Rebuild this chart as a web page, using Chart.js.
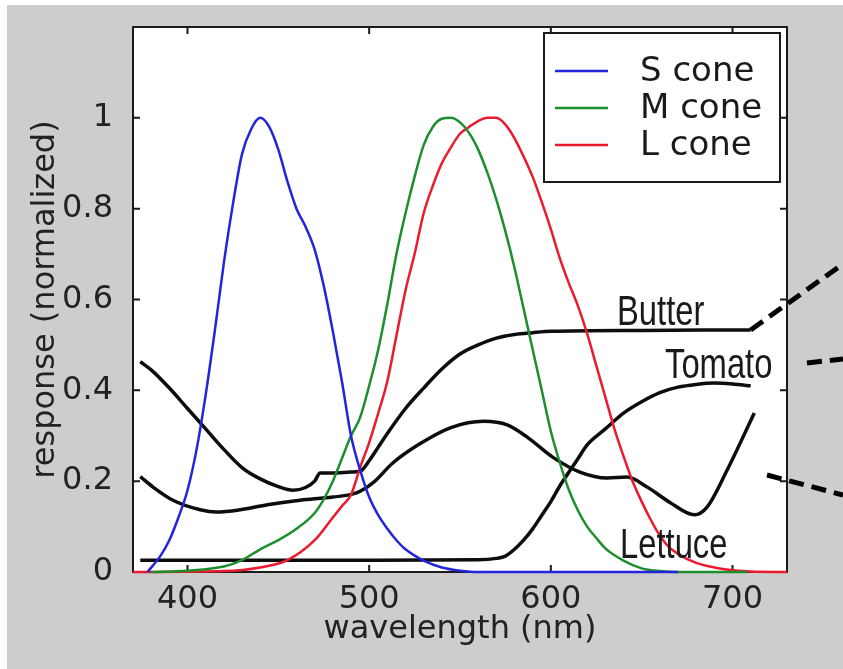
<!DOCTYPE html>
<html>
<head>
<meta charset="utf-8">
<script src="https://cdn.jsdelivr.net/npm/chart.js@4"></script>
<style>
  html, body { margin: 0; padding: 0; background: #ffffff; }
  #wrap { width: 843px; height: 669px; }
</style>
</head>
<body>
<div id="wrap"><canvas id="grafica" width="843" height="669"></canvas></div>
<script>
// tick labels
const xTicks = [400, 500, 600, 700];
const yTicks = [0, 0.2, 0.4, 0.6, 0.8, 1];

// cone responses
const sWave = [378, 385, 390, 395, 400, 405, 410, 415, 420, 425, 430, 435, 440, 445, 450, 455, 460, 465, 470, 475, 480, 485, 490, 495, 500, 505, 510, 515, 520, 530, 540, 550, 560, 670];
const sResp = [0, 0.035, 0.07, 0.12, 0.18, 0.27, 0.39, 0.53, 0.68, 0.81, 0.92, 0.975, 1.0, 0.98, 0.93, 0.86, 0.8, 0.76, 0.71, 0.63, 0.53, 0.42, 0.3, 0.225, 0.165, 0.125, 0.095, 0.07, 0.05, 0.025, 0.01, 0.003, 0, 0];

const mWave = [380, 400, 420, 430, 440, 450, 460, 470, 475, 480, 485, 490, 495, 500, 505, 510, 515, 520, 525, 530, 535, 540, 545, 550, 555, 560, 565, 570, 575, 580, 585, 590, 595, 600, 605, 610, 615, 620, 625, 630, 640, 650, 660, 670, 708];
const mResp = [0, 0.003, 0.012, 0.026, 0.05, 0.07, 0.095, 0.13, 0.16, 0.2, 0.25, 0.3, 0.34, 0.41, 0.49, 0.59, 0.7, 0.79, 0.87, 0.94, 0.98, 0.998, 1.0, 0.99, 0.967, 0.93, 0.88, 0.82, 0.75, 0.67, 0.58, 0.49, 0.4, 0.31, 0.24, 0.18, 0.135, 0.1, 0.075, 0.052, 0.025, 0.008, 0.002, 0, 0];

const lWave = [370, 420, 440, 455, 470, 480, 485, 490, 495, 500, 505, 510, 515, 520, 525, 530, 535, 540, 545, 550, 555, 560, 565, 570, 575, 580, 585, 590, 595, 600, 605, 610, 615, 620, 625, 630, 635, 640, 645, 650, 655, 660, 665, 670, 680, 690, 700, 710, 730];
const lResp = [0, 0.002, 0.01, 0.026, 0.07, 0.12, 0.145, 0.17, 0.23, 0.285, 0.35, 0.42, 0.52, 0.62, 0.7, 0.79, 0.85, 0.9, 0.935, 0.965, 0.98, 0.993, 1.0, 1.0, 0.985, 0.955, 0.915, 0.87, 0.815, 0.755, 0.69, 0.635, 0.585, 0.525, 0.455, 0.385, 0.315, 0.255, 0.2, 0.155, 0.115, 0.08, 0.055, 0.04, 0.02, 0.01, 0.004, 0.001, 0];

// reflectance of the three foods
const butterWave = [374, 380, 390, 400, 410, 420, 430, 440, 450, 458, 465, 470, 473, 480, 490, 495, 500, 505, 510, 520, 530, 540, 550, 560, 570, 580, 590, 600, 650, 710];
const butterResp = [0.463, 0.445, 0.405, 0.36, 0.315, 0.27, 0.23, 0.205, 0.188, 0.18, 0.186, 0.2, 0.218, 0.218, 0.22, 0.222, 0.245, 0.275, 0.305, 0.36, 0.405, 0.447, 0.48, 0.5, 0.515, 0.523, 0.527, 0.53, 0.532, 0.533];

const tomatoWave = [374, 450, 500, 560, 570, 575, 580, 585, 590, 595, 600, 605, 610, 615, 620, 630, 640, 650, 660, 670, 680, 690, 700, 710];
const tomatoResp = [0.026, 0.026, 0.026, 0.027, 0.03, 0.035, 0.05, 0.07, 0.095, 0.125, 0.155, 0.19, 0.22, 0.25, 0.28, 0.315, 0.35, 0.375, 0.395, 0.407, 0.413, 0.416, 0.414, 0.41];

const lettuceWave = [374, 381, 392, 407, 416, 429, 444, 462, 480, 493, 502, 513, 527, 545, 563, 576, 587, 601, 616, 631, 642, 653, 666, 679, 686, 697, 712];
const lettuceResp = [0.21, 0.187, 0.158, 0.137, 0.132, 0.137, 0.148, 0.158, 0.165, 0.174, 0.196, 0.24, 0.28, 0.318, 0.332, 0.324, 0.297, 0.253, 0.22, 0.207, 0.209, 0.187, 0.152, 0.126, 0.143, 0.224, 0.35];

const foodLabels = ["Butter", "Tomato", "Lettuce"];

const pares = (xs, ys) => xs.map((x, i) => ({ x: x, y: ys[i] }));

function serie(label, xs, ys, color, width, legend) {
  return {
    label: label,
    data: pares(xs, ys),
    borderColor: color,
    backgroundColor: color,
    borderWidth: width,
    pointRadius: 0,
    cubicInterpolationMode: "monotone",
    clip: 6,
    enLeyenda: legend,
  };
}

const fuenteEje = "DejaVu Sans";

// fondo gris, marco, ticks hacia dentro, leyenda y etiquetas
const decorado = {
  id: "decorado",
  beforeDraw(chart) {
    const ctx = chart.ctx;
    const a = chart.chartArea;
    ctx.save();
    ctx.fillStyle = "#cdcdcd";
    ctx.fillRect(7, 5, chart.width, chart.height);
    ctx.fillStyle = "#ffffff";
    ctx.fillRect(a.left, a.top, a.right - a.left, a.bottom - a.top);
    ctx.restore();
  },
  beforeDatasetsDraw(chart) {
    const ctx = chart.ctx;
    const a = chart.chartArea;
    const sx = chart.scales.x;
    const sy = chart.scales.y;
    ctx.save();
    ctx.strokeStyle = "#1a1a1a";
    ctx.lineWidth = 2;
    ctx.strokeRect(a.left, a.top, a.right - a.left, a.bottom - a.top);
    const t = 7;
    ctx.beginPath();
    xTicks.forEach((v) => {
      const px = sx.getPixelForValue(v);
      ctx.moveTo(px, a.bottom); ctx.lineTo(px, a.bottom - t);
      ctx.moveTo(px, a.top); ctx.lineTo(px, a.top + t);
    });
    yTicks.forEach((v) => {
      const py = sy.getPixelForValue(v);
      ctx.moveTo(a.left, py); ctx.lineTo(a.left + t, py);
      ctx.moveTo(a.right, py); ctx.lineTo(a.right - t, py);
    });
    ctx.stroke();
    ctx.restore();
  },
  afterDatasetsDraw(chart) {
    const ctx = chart.ctx;
    const a = chart.chartArea;
    const sx = chart.scales.x;
    const sy = chart.scales.y;
    ctx.save();

    // leyenda
    const bx = a.right - 243, by = a.top + 6, bw = 236, bh = 149;
    ctx.fillStyle = "#ffffff";
    ctx.fillRect(bx, by, bw, bh);
    ctx.strokeStyle = "#1a1a1a";
    ctx.lineWidth = 2;
    ctx.strokeRect(bx, by, bw, bh);
    ctx.font = "34px " + fuenteEje;
    ctx.textBaseline = "middle";
    ctx.textAlign = "left";
    let fila = 0;
    chart.data.datasets.forEach((d) => {
      if (!d.enLeyenda) return;
      const yy = by + 38 + fila * 37;
      ctx.strokeStyle = d.borderColor;
      ctx.lineWidth = 2.5;
      ctx.beginPath();
      ctx.moveTo(bx + 11, yy);
      ctx.lineTo(bx + 64, yy);
      ctx.stroke();
      ctx.fillStyle = "#1a1a1a";
      ctx.fillText(d.label, bx + 96, yy + 1);
      fila++;
    });

    // etiquetas de los alimentos
    const marcas = [
      { x: 617, y: 325 },
      { x: 665, y: 378 },
      { x: 620, y: 558 },
    ];
    ctx.fillStyle = "#1a1a1a";
    ctx.textBaseline = "alphabetic";
    ctx.font = "42px 'Liberation Sans'";
    foodLabels.forEach((txt, i) => {
      ctx.save();
      ctx.translate(marcas[i].x, marcas[i].y);
      ctx.scale(0.78, 1);
      ctx.fillText(txt, 0, 0);
      ctx.restore();
    });

    // lineas discontinuas hacia fuera
    ctx.strokeStyle = "#000000";
    ctx.lineWidth = 5;
    ctx.setLineDash([15, 8]);
    const b0x = sx.getPixelForValue(butterWave[butterWave.length - 1]);
    const b0y = sy.getPixelForValue(butterResp[butterResp.length - 1]);
    ctx.beginPath();
    ctx.moveTo(b0x, b0y);
    ctx.lineTo(chart.width, b0y - 66);
    ctx.moveTo(a.right + 20, 363);
    ctx.lineTo(chart.width, 359);
    ctx.moveTo(a.right - 20, 475);
    ctx.lineTo(chart.width, 495);
    ctx.stroke();
    ctx.restore();
  },
};

new Chart(document.getElementById("grafica"), {
  type: "line",
  data: {
    datasets: [
      serie("S cone", sWave, sResp, "#2424dc", 2.5, true),
      serie("M cone", mWave, mResp, "#1c8f2c", 2.5, true),
      serie("L cone", lWave, lResp, "#ec1a2e", 2.5, true),
      serie("Butter", butterWave, butterResp, "#0d0d0d", 3.5, false),
      serie("Tomato", tomatoWave, tomatoResp, "#0d0d0d", 3.5, false),
      serie("Lettuce", lettuceWave, lettuceResp, "#0d0d0d", 3.5, false),
    ],
  },
  options: {
    responsive: false,
    animation: false,
    layout: { padding: { left: 0, top: 27, right: 56, bottom: 0 } },
    plugins: {
      legend: { display: false },
      tooltip: { enabled: false },
    },
    scales: {
      x: {
        type: "linear",
        min: 370,
        max: 730,
        afterBuildTicks: (s) => { s.ticks = xTicks.map((v) => ({ value: v })); },
        afterFit: (s) => {
          s.height = 97;
          s.paddingLeft = 0;
          s.paddingRight = 0;
        },
        grid: { display: false, drawTicks: false },
        border: { display: false },
        ticks: {
          padding: 8,
          color: "#222222",
          font: { family: fuenteEje, size: 32 },
          maxRotation: 0,
        },
        title: {
          display: true,
          text: "wavelength (nm)",
          color: "#222222",
          font: { family: fuenteEje, size: 32 },
          padding: { top: 20, bottom: 20 },
        },
      },
      y: {
        type: "linear",
        min: 0,
        max: 1.2,
        afterBuildTicks: (s) => { s.ticks = yTicks.map((v) => ({ value: v })); },
        afterFit: (s) => {
          s.width = 133;
          s.paddingTop = 0;
          s.paddingBottom = 0;
        },
        grid: { display: false, drawTicks: false },
        border: { display: false },
        ticks: {
          padding: 20,
          color: "#222222",
          font: { family: fuenteEje, size: 32 },
          callback: (v) => String(v),
        },
        title: {
          display: true,
          text: "response (normalized)",
          color: "#222222",
          font: { family: fuenteEje, size: 32 },
          padding: { top: 26, bottom: 26 },
        },
      },
    },
  },
  plugins: [decorado],
});
</script>
</body>
</html>
